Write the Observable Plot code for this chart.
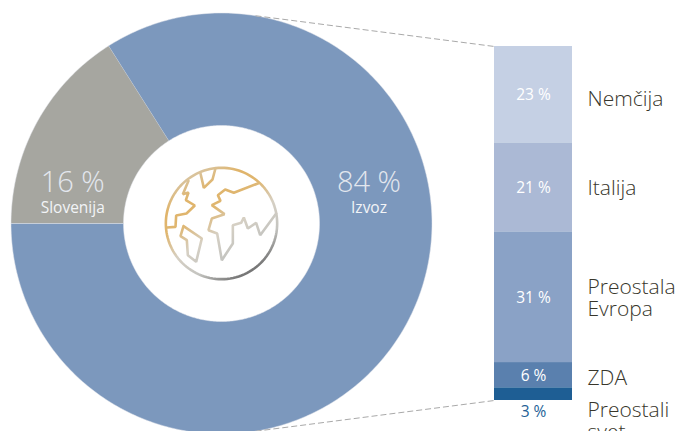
<!DOCTYPE html>
<html><head><meta charset="utf-8">
<script src="https://cdn.jsdelivr.net/npm/d3@7"></script>
<script src="https://cdn.jsdelivr.net/npm/@observablehq/plot@0.6"></script>
<style>html,body{margin:0;padding:0;background:#fff;overflow:hidden}svg{display:block}</style>
</head><body><div id="chart"></div>
<script>
// Donut: all values are percentages
const mainNames = ["Slovenija", "Izvoz"];
const mainValues = [16, 84];
const mainLabels = ["16 %", "84 %"];
const mainColors = ["#a6a6a0", "#7c98bd"];
// Stacked breakdown of exports (the bar's height is the 84 % share)
const partNames = ["Nemčija", "Italija", "Preostala\nEvropa", "ZDA", "Preostali\nsvet"];
const partValues = [23, 21, 31, 6, 3];
const partColors = ["#c5d0e4", "#abb9d5", "#8aa2c6", "#5a80ae", "#1e5e94"];
const partText = ["#ffffff", "#ffffff", "#ffffff", "#ffffff", "#245f96"];

const font = "'Open Sans', sans-serif";
const total = d3.sum(partValues);
const unit = 354 / total;            // pixels per percentage point
const R = 210.5 / unit, r = 98 / unit;
const cy = total / 2;

// ring polygons, in the same percentage units as the bar
const pie = d3.pie().sort(null).startAngle(-Math.PI / 2).endAngle(1.5 * Math.PI)(mainValues);
const ring = pie.flatMap((s, i) => {
  const n = Math.ceil(mainValues[i] * 4);
  const at = k => s.startAngle + (s.endAngle - s.startAngle) * k / n;
  const pts = [];
  for (let k = 0; k <= n; k++) pts.push({i, x: R * Math.sin(at(k)), y: cy - R * Math.cos(at(k))});
  for (let k = n; k >= 0; k--) pts.push({i, x: r * Math.sin(at(k)), y: cy - r * Math.cos(at(k))});
  return pts;
});
const mainTextData = [
  {x: -35.3, y: cy, label: mainLabels[0], name: mainNames[0]},
  {x: 35.0, y: cy, label: mainLabels[1], name: mainNames[1]}
];

// Globe icon, traced on a local grid (grid centre is the ring's centre)
const globeScale = 1 / (3 * unit);
const globeStrokes = [
  [[178,70],[188,113],[214,88],[222,58]],
  [[142,92],[125,132],[142,127],[134,150],[161,166],[136,190],[105,196],[103,230],[78,232]],
  [[127,228],[118,258],[137,270],[140,315],[165,335],[182,265],[127,228]],
  [[350,100],[278,128],[252,118],[230,135],[238,152],[212,165],[250,192],[212,205],[202,240],[228,250],[242,330],[275,280],[275,225],[300,218],[308,202],[320,235],[345,218],[357,255],[405,190]]
];
const gridX = v => (v - 241) * globeScale;
const gridY = v => cy + (v - 220) * globeScale;
const globeLines = globeStrokes.flatMap((s, i) => s.map(([a, b]) => ({i, x: gridX(a), y: gridY(b)})));
const globeCircle = d3.range(0, 121).map(k => ({
  i: "c",
  x: 167 * globeScale * Math.sin(k / 120 * 2 * Math.PI),
  y: cy - 167 * globeScale * Math.cos(k / 120 * 2 * Math.PI)
}));

const barX1 = (494 - 221) / unit, barX2 = (572 - 221) / unit;
const barMid = (barX1 + barX2) / 2;
const labelX = (587 - 221) / unit;
// label positions, as offsets in points from each segment's middle
const labelShift = [1.0, 0.0, 0.2, 0.6, 6.4];
let run = 0;
const parts = partValues.map((v, i) => {
  const d = {name: partNames[i], value: v, color: partColors[i], text: partText[i], y0: run, mid: run + v / 2};
  run += v;
  return d;
});

const connectors = [
  {x1: (255 - 221) / unit, y1: -7.3, x2: barX1, y2: 0},
  {x1: (255 - 221) / unit, y1: total + 7.3, x2: barX1, y2: total}
];

const defs = () => {
  const s = d3.create("svg:defs");
  const g = s.append("linearGradient").attr("id", "globeGrad").attr("gradientUnits", "userSpaceOnUse")
    .attr("x1", 192).attr("y1", 175).attr("x2", 256).attr("y2", 284);
  [[0, "#d9c39c"], [0.15, "#e0b46a"], [0.3, "#dfb670"], [0.5, "#d6d0c4"], [0.7, "#c4c4c0"], [0.88, "#777777"], [1, "#5c5c5c"]]
    .forEach(([o, c]) => g.append("stop").attr("offset", o).attr("stop-color", c));
  return s.node();
};

const chart = Plot.plot({
  width: 676, height: 431, margin: 0,
  style: {background: "#fff", fontFamily: font},
  x: {domain: [0, total], range: [221, 221 + 354], axis: null},
  y: {domain: [0, total], range: [46, 400], axis: null},
  marks: [
    defs,
    Plot.line(ring, {x: "x", y: "y", z: "i", fill: d => mainColors[d.i], stroke: "#e4e7ec", strokeWidth: 0.5}),
    Plot.line(globeCircle, {x: "x", y: "y", stroke: "url(#globeGrad)", strokeWidth: 2.6}),
    Plot.line(globeLines, {x: "x", y: "y", z: "i", stroke: "url(#globeGrad)", strokeWidth: 2.6, strokeLinejoin: "miter"}),
    Plot.text(mainTextData, {x: "x", y: "y", text: "label", fill: "#e3e7ee", fontSize: 29, fontWeight: 300, dy: -41}),
    Plot.text(mainTextData, {x: "x", y: "y", text: "name", fill: "#f2f4f7", fontSize: 15.5, dy: -15}),
    Plot.link(connectors, {x1: "x1", y1: "y1", x2: "x2", y2: "y2", stroke: "#a9a9a9", strokeWidth: 1, strokeDasharray: "6 3"}),
    Plot.rect(parts, {x1: barX1, x2: barX2, y1: "y0", y2: d => d.y0 + d.value, fill: "color"}),
    Plot.text(parts, {x: barMid, y: d => d.value < 5 ? d.mid + 4.2 : d.mid + 0.1, text: d => d.value + " %", fill: "text", fontSize: 15.5}),
    Plot.text(parts, {x: labelX, y: (d, i) => d.mid + labelShift[i], text: "name", textAnchor: "start", fill: "#38362b", fontSize: 21, lineHeight: 1.02, fontWeight: 300})
  ]
});
document.getElementById("chart").appendChild(chart);
</script></body></html>
